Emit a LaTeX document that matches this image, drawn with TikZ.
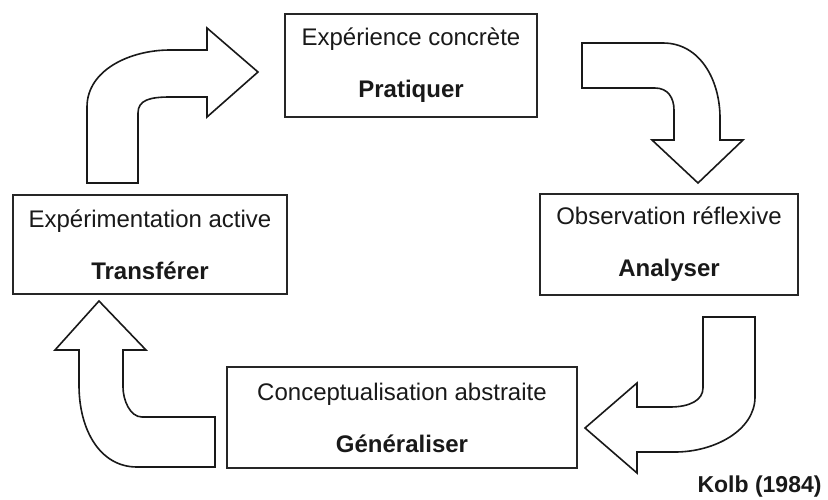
\documentclass[tikz,border=0pt]{standalone}
\usepackage{fontspec}
\setmainfont{Liberation Sans}
\tikzset{
  etape/.style={draw=black!85, line width=2.4pt, fill=white, align=center, text=black!90, inner sep=0pt},
  grossefleche/.style={draw=black!90, line width=1.6pt, fill=white, line join=miter}
}
\begin{document}
\begin{tikzpicture}[x=1pt, y=-1pt, font=\fontsize{24}{28}\selectfont, line cap=round]
	\useasboundingbox (0,0) rectangle (828,499);
	\node[etape, minimum width=252pt, minimum height=103pt] (prat) at (411,65.5) {Expérience concrète\\[24pt]\textbf{Pratiquer}};
	\node[etape, minimum width=258pt, minimum height=101pt] (anal) at (669,244.5) {Observation réflexive\\[24pt]\textbf{Analyser}};
	\node[etape, minimum width=350pt, minimum height=101pt] (gene) at (402,417.5) {Conceptualisation abstraite\\[24pt]\textbf{Généraliser}};
	\node[etape, minimum width=274pt, minimum height=99pt] (trans) at (150,244.5) {Expérimentation active\\[24pt]\textbf{Transférer}};
	\draw[grossefleche] (87,183) -- (87,107) .. controls (87,70) and (130,50) .. (170,50) -- (207,50) -- (207,28) -- (258,72) -- (207,117) -- (207,97) -- (170,97) .. controls (150,97) and (138,100) .. (138,113) -- (138,183) -- cycle;
	\draw[grossefleche] (582,43) -- (663,43) .. controls (700,43) and (720,80) .. (720,118) -- (720,140) -- (743,140) -- (698,183) -- (652,140) -- (674,140) -- (674,110) .. controls (674,98) and (668,88) .. (655,88) -- (582,88) -- cycle;
	\draw[grossefleche] (703,317) -- (755,317) -- (755,397) .. controls (755,430) and (715,452) .. (675,452) -- (637,452) -- (637,473) -- (585,428) -- (637,383) -- (637,407) -- (670,407) .. controls (690,407) and (703,400) .. (703,388) -- cycle;
	\draw[grossefleche] (215,417) -- (215,467) -- (137,467) .. controls (100,467) and (79,430) .. (79,385) -- (79,350) -- (55,350) -- (99,301) -- (146,350) -- (123,350) -- (123,387) .. controls (123,400) and (130,417) .. (142,417) -- cycle;
	\node[anchor=base west, font=\fontsize{23}{26}\selectfont\bfseries, text=black!90] (src) at (694,492) {Kolb (1984)};
\end{tikzpicture}
\end{document}
